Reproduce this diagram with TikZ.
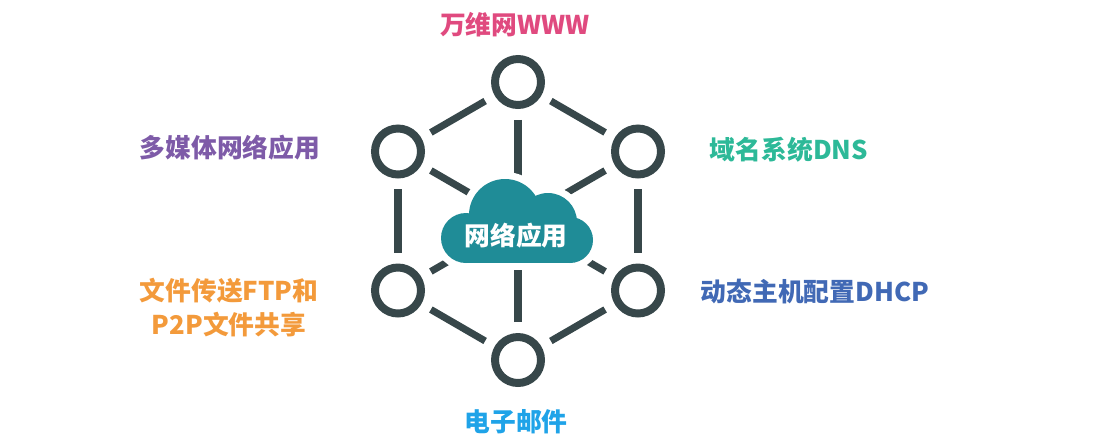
\documentclass[tikz,border=0pt]{standalone}
\usepackage{fontspec}
\newfontfamily\cjk{Noto Sans CJK SC}
\usepackage{xcolor}
\usetikzlibrary{positioning}

\definecolor{ring}{HTML}{37474A}
\definecolor{cloudc}{HTML}{1F8C97}
\definecolor{wwwc}{HTML}{E04A7F}
\definecolor{mediac}{HTML}{7E5BA8}
\definecolor{ftpc}{HTML}{F39A3B}
\definecolor{dnsc}{HTML}{2DB998}
\definecolor{dhcpc}{HTML}{4169B5}
\definecolor{mailc}{HTML}{1FA3E8}

\begin{document}
\begin{tikzpicture}[
    x=0.03cm, y=-0.03cm,
    hub/.style={draw=ring, circle, line width=6.8pt, minimum size=1.38cm, inner sep=0pt},
    link/.style={draw=ring, line width=6pt, shorten <=0.33cm, shorten >=0.33cm},
    spoke/.style={draw=ring, line width=6pt, shorten <=0.33cm},
    lbl/.style={font=\cjk\bfseries\fontsize{22}{29}\selectfont, align=center, inner sep=0pt},
]
\useasboundingbox (0,0) rectangle (1109,442);

% hexagon of hubs
\coordinate (net) at (518,221);
\node[hub] (top) at (518,82) {};
\node[hub] (ul) at (398,151.5) {};
\node[hub] (ur) at (638,151.5) {};
\node[hub] (ll) at (398,290.5) {};
\node[hub] (lr) at (638,290.5) {};
\node[hub] (bot) at (518,360) {};

\draw[link] (top) -- (ul);
\draw[link] (top) -- (ur);
\draw[link] (ul) -- (ll);
\draw[link] (ur) -- (lr);
\draw[link] (ll) -- (bot);
\draw[link] (lr) -- (bot);

\foreach \n in {top, ul, ur, ll, lr, bot}
    \draw[spoke] (\n) -- (net);

% cloud: white halo first, then the fill
\foreach \cx/\cy/\r in {466/238/25, 505/215/36, 548/222/29, 570/240/23}
    \draw[white, line width=12pt] (\cx,\cy) circle (\r);
\draw[white, line width=12pt] (466,263) -- (570,263);
\foreach \cx/\cy/\r in {466/238/25, 505/215/36, 548/222/29, 570/240/23}
    \fill[cloudc] (\cx,\cy) circle (\r);
\fill[cloudc] (466,225) rectangle (570,263);
\node[lbl, text=white] (app) at (516,236) {网络应用};

% labels
\node[lbl, text=wwwc] (www) at (515,25) {万维网WWW};
\node[lbl, text=mediac] (media) at (230,148) {多媒体网络应用};
\node[lbl, text=ftpc] (ftp) at (229,308) {文件传送FTP和\\P2P文件共享};
\node[lbl, text=dnsc] (dns) at (789,150) {域名系统DNS};
\node[lbl, text=dhcpc] (dhcp) at (815,292) {动态主机配置DHCP};
\node[lbl, text=mailc] (mail) at (516,422) {电子邮件};
\end{tikzpicture}
\end{document}
